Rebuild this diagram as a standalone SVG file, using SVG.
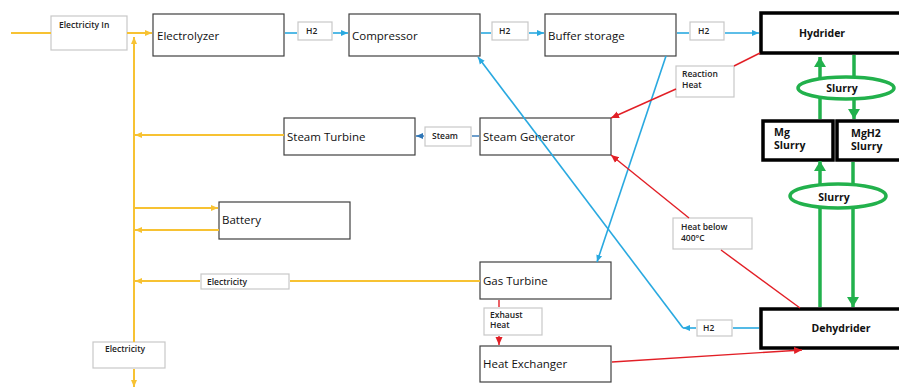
<svg xmlns="http://www.w3.org/2000/svg" width="899" height="388" viewBox="0 0 899 388">
<style>
.box{fill:#fff;stroke:#404040;stroke-width:1.2}
.lbl{fill:#fff;stroke:#c8c8c8;stroke-width:1.2}
.thick{fill:#fff;stroke:#000;stroke-width:3.5}
.t{font-family:"Open Sans",sans-serif;font-size:11.5px;fill:#111}
.s{font-family:"Open Sans",sans-serif;font-size:8.5px;font-weight:600;fill:#222}
.b{font-family:"Open Sans",sans-serif;font-size:10.5px;font-weight:700;fill:#111}
.y{stroke:#F7C233;stroke-width:2;fill:none}
.bl{stroke:#29A9E0;stroke-width:1.6;fill:none}
.db{stroke:#2E75B6;stroke-width:1.4;fill:none}
.r{stroke:#E21F26;stroke-width:1.4;fill:none}
.g{stroke:#22B14C;stroke-width:3.5;fill:none}
</style>
<defs>
<marker id="ay" markerUnits="userSpaceOnUse" markerWidth="8" markerHeight="8" refX="7" refY="4" orient="auto"><path d="M0,1 L7,4 L0,7 z" fill="#F7C233"/></marker>
<marker id="ab" markerUnits="userSpaceOnUse" markerWidth="8" markerHeight="8" refX="7" refY="4" orient="auto"><path d="M0,1 L7,4 L0,7 z" fill="#29A9E0"/></marker>
<marker id="adb" markerUnits="userSpaceOnUse" markerWidth="8" markerHeight="8" refX="7" refY="4" orient="auto"><path d="M0,1 L7,4 L0,7 z" fill="#2E75B6"/></marker>
<marker id="ar" markerUnits="userSpaceOnUse" markerWidth="9" markerHeight="9" refX="8" refY="4.5" orient="auto"><path d="M0,1 L8,4.5 L0,8 z" fill="#E21F26"/></marker>
<marker id="ag" markerUnits="userSpaceOnUse" markerWidth="12" markerHeight="12" refX="10" refY="6" orient="auto"><path d="M0,0 L10,6 L0,12 z" fill="#22B14C"/></marker>
</defs>
<g id="elec-in"><rect class="lbl" x="51" y="16" width="76" height="34"/><text class="s" x="59" y="28">Electricity In</text></g>
<g id="electrolyzer"><rect class="box" x="153" y="14" width="131" height="42"/><text class="t" x="157" y="40">Electrolyzer</text></g>
<g id="h2a"><rect class="lbl" x="298" y="22" width="34" height="18"/><text class="s" x="306" y="34">H2</text></g>
<g id="compressor"><rect class="box" x="349" y="14" width="131" height="42"/><text class="t" x="352" y="40">Compressor</text></g>
<g id="h2b"><rect class="lbl" x="492" y="22" width="36" height="18"/><text class="s" x="499" y="34">H2</text></g>
<g id="buffer"><rect class="box" x="545" y="14" width="131" height="42"/><text class="t" x="548" y="40">Buffer storage</text></g>
<g id="h2c"><rect class="lbl" x="690" y="22" width="34" height="18"/><text class="s" x="698" y="34">H2</text></g>
<g id="hydrider"><rect class="thick" x="761" y="13" width="140" height="40"/><text class="b" x="822" y="37" text-anchor="middle">Hydrider</text></g>
<g id="reaction-heat"><rect class="lbl" x="676" y="66" width="58" height="31"/><text class="s" x="682" y="77">Reaction</text><text class="s" x="682" y="88">Heat</text></g>
<g id="mg"><rect class="thick" x="763" y="121" width="70" height="39"/><text class="b" x="774" y="136">Mg</text><text class="b" x="774" y="149">Slurry</text></g>
<g id="mgh2"><rect class="thick" x="837" y="121" width="64" height="39"/><text class="b" x="851" y="137">MgH2</text><text class="b" x="851" y="150">Slurry</text></g>
<g id="steam-turbine"><rect class="box" x="284" y="118" width="131" height="37"/><text class="t" x="287" y="141">Steam Turbine</text></g>
<g id="steam"><rect class="lbl" x="425" y="127" width="46" height="19"/><text class="s" x="432" y="139">Steam</text></g>
<g id="steam-gen"><rect class="box" x="480" y="118" width="131" height="37"/><text class="t" x="483" y="141">Steam Generator</text></g>
<g id="battery"><rect class="box" x="219" y="202" width="131" height="37"/><text class="t" x="222" y="224">Battery</text></g>
<g id="heat-below"><rect class="lbl" x="673" y="218" width="79" height="31"/><text class="s" x="681" y="230">Heat below</text><text class="s" x="681" y="241">400°C</text></g>
<g id="elec-mid"><rect class="lbl" x="201" y="274" width="88" height="15"/><text class="s" x="207" y="285">Electricity</text></g>
<g id="gas-turbine"><rect class="box" x="480" y="262" width="131" height="37"/><text class="t" x="483" y="285">Gas Turbine</text></g>
<g id="exhaust"><rect class="lbl" x="484" y="308" width="58" height="27"/><text class="s" x="490" y="318">Exhaust</text><text class="s" x="490" y="328">Heat</text></g>
<g id="heat-exchanger"><rect class="box" x="480" y="346" width="131" height="36"/><text class="t" x="483" y="368">Heat Exchanger</text></g>
<g id="h2d"><rect class="lbl" x="697" y="320" width="35" height="16"/><text class="s" x="703" y="331">H2</text></g>
<g id="dehydrider"><rect class="thick" x="761" y="309" width="140" height="39"/><text class="b" x="841" y="332" text-anchor="middle">Dehydrider</text></g>
<g id="elec-bottom"><rect class="lbl" x="93" y="342" width="72" height="26"/><text class="s" x="105" y="352">Electricity</text></g>
<g id="connectors">
<path class="y" d="M11,33 H51"/>
<path class="y" d="M127,33 H152" marker-end="url(#ay)"/>
<path class="y" d="M134,342 V37" marker-end="url(#ay)"/>
<path class="y" d="M134,369 V387" marker-end="url(#ay)"/>
<path class="y" d="M284,135 H135" marker-end="url(#ay)"/>
<path class="y" d="M135,208 H218" marker-end="url(#ay)"/>
<path class="y" d="M219,230 H135" marker-end="url(#ay)"/>
<path class="y" d="M480,281 H290"/>
<path class="y" d="M200,281 H135" marker-end="url(#ay)"/>
<path class="bl" d="M285,33 H297"/>
<path class="bl" d="M333,33 H348" marker-end="url(#ab)"/>
<path class="bl" d="M481,33 H491"/>
<path class="bl" d="M529,33 H544" marker-end="url(#ab)"/>
<path class="bl" d="M677,33 H689"/>
<path class="bl" d="M725,33 H759" marker-end="url(#ab)"/>
<path class="bl" d="M666,56 L597,262" marker-end="url(#ab)"/>
<path class="bl" d="M759,328 H733"/>
<path class="bl" d="M696,328 H683" marker-end="url(#ab)"/>
<path class="bl" d="M683,328 L478,57" marker-end="url(#ab)"/>
<path class="db" d="M479,136 H472"/>
<path class="db" d="M424,136 H416" marker-end="url(#adb)"/>
<path class="r" d="M760,53 L734,66"/>
<path class="r" d="M676,89 L611,118" marker-end="url(#ar)"/>
<path class="r" d="M800,308 L721,250"/>
<path class="r" d="M689,218 L611,155" marker-end="url(#ar)"/>
<path class="r" d="M499,300 V307"/>
<path class="r" d="M499,336 V345" marker-end="url(#ar)"/>
<path class="r" d="M612,362 L802,350" marker-end="url(#ar)"/>
<path class="g" d="M820,119 V57" marker-end="url(#ag)"/>
<path class="g" d="M854,55 V119" marker-end="url(#ag)"/>
<path class="g" d="M820,307 V161" marker-end="url(#ag)"/>
<path class="g" d="M853,162 V307" marker-end="url(#ag)"/>
</g>
<g id="slurry1"><ellipse cx="846" cy="88" rx="48" ry="11" fill="#fff" stroke="#22B14C" stroke-width="3.5"/><text class="b" x="842" y="92" text-anchor="middle">Slurry</text></g>
<g id="slurry2"><ellipse cx="838" cy="196" rx="48" ry="12" fill="#fff" stroke="#22B14C" stroke-width="3.5"/><text class="b" x="834" y="201" text-anchor="middle">Slurry</text></g>
</svg>
